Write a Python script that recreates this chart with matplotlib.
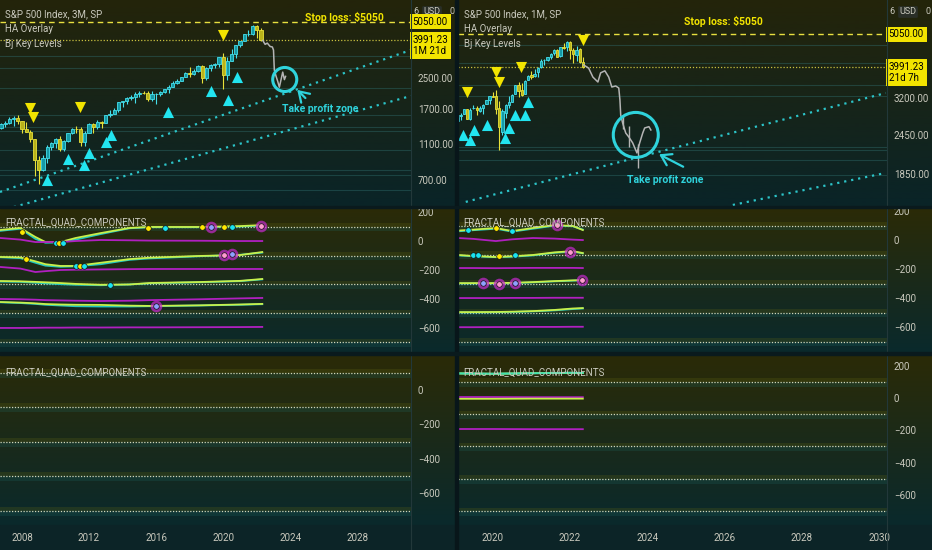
import numpy as np
import pandas as pd
import matplotlib
matplotlib.use("Agg")
import matplotlib.pyplot as plt
from matplotlib import transforms, font_manager
from matplotlib.colors import LinearSegmentedColormap
from matplotlib.ticker import NullLocator

# a narrow face looks closest to the TradingView labels; fall back to Roboto
installed = {f.name for f in font_manager.fontManager.ttflist}
if 'Liberation Sans Narrow' in installed:
    plt.rcParams['font.family'] = ['Liberation Sans Narrow', 'DejaVu Sans']
    FS = 8
else:
    plt.rcParams['font.family'] = ['Roboto', 'DejaVu Sans']
    FS = 7

W, H = 932, 550

# ---------------- S&P 500, quarterly bars (3M), 2006Q3 .. 2022Q2 ----------------
q_first = "2006Q3"
q_open = [1270, 1336, 1418, 1421, 1503, 1527, 1468, 1323, 1280, 1166, 903, 798,
          919, 1057, 1115, 1169, 1031, 1141, 1258, 1326, 1321, 1131, 1258, 1408,
          1362, 1441, 1426, 1569, 1606, 1682, 1848, 1872, 1960, 1972, 2059, 2068,
          2063, 1920, 2044, 2060, 2099, 2168, 2239, 2363, 2423, 2519, 2674, 2641,
          2718, 2914, 2507, 2834, 2942, 2977, 3231, 2585, 3100, 3363, 3756, 3973,
          4298, 4308, 4766, 4530]
q_high = [1340, 1431, 1461, 1540, 1556, 1576, 1471, 1440, 1313, 1167, 944, 957,
          1080, 1130, 1180, 1220, 1157, 1263, 1344, 1370, 1356, 1293, 1420, 1422,
          1475, 1470, 1570, 1687, 1729, 1849, 1884, 1968, 2019, 2093, 2119, 2135,
          2132, 2116, 2082, 2120, 2193, 2278, 2401, 2454, 2519, 2694, 2873, 2791,
          2941, 2940, 2860, 2964, 3028, 3248, 3394, 3233, 3588, 3760, 3984, 4298,
          4546, 4808, 4818, 4637]
q_low = [1224, 1327, 1364, 1416, 1370, 1406, 1257, 1272, 1133, 741, 667, 783,
         869, 1020, 1045, 1011, 1010, 1131, 1250, 1259, 1075, 1075, 1258, 1267,
         1325, 1343, 1426, 1536, 1604, 1647, 1737, 1814, 1904, 1820, 1981, 2048,
         1867, 1872, 1810, 1991, 2074, 2084, 2233, 2322, 2405, 2519, 2533, 2594,
         2691, 2347, 2444, 2729, 2822, 2856, 2192, 2447, 3100, 3209, 3662, 3955,
         4234, 4279, 4115, 3959]
q_close = [1336, 1418, 1421, 1503, 1527, 1468, 1323, 1280, 1166, 903, 798, 919,
           1057, 1115, 1169, 1031, 1141, 1258, 1326, 1321, 1131, 1258, 1408, 1362,
           1441, 1426, 1569, 1606, 1682, 1848, 1872, 1960, 1972, 2059, 2068, 2063,
           1920, 2044, 2060, 2099, 2168, 2239, 2363, 2423, 2519, 2674, 2641, 2718,
           2914, 2507, 2834, 2942, 2977, 3231, 2585, 3100, 3363, 3756, 3973, 4298,
           4308, 4766, 4530, 3991.23]

# ---------------- S&P 500, monthly bars (1M), 2019-01 .. 2022-05 ----------------
m_first = "2019-01"
m_open = [2476, 2703, 2798, 2848, 2952, 2751, 2971, 2980, 2910, 2983, 3050, 3144,
          3245, 3236, 2974, 2499, 2869, 3039, 3106, 3289, 3508, 3386, 3296, 3645,
          3764, 3732, 3842, 3992, 4191, 4207, 4301, 4407, 4528, 4317, 4610, 4602,
          4778, 4519, 4363, 4540, 4130]
m_high = [2708, 2813, 2861, 2949, 2955, 2964, 3028, 3013, 3022, 3050, 3154, 3248,
          3337, 3394, 3137, 2955, 3068, 3233, 3280, 3512, 3588, 3550, 3645, 3760,
          3870, 3950, 3983, 4218, 4238, 4302, 4429, 4537, 4546, 4608, 4744, 4808,
          4818, 4595, 4637, 4593, 4307]
m_low = [2443, 2681, 2722, 2848, 2750, 2729, 2952, 2822, 2892, 2856, 3050, 3070,
         3214, 2855, 2192, 2447, 2767, 2965, 3101, 3284, 3210, 3234, 3279, 3633,
         3662, 3725, 3723, 3955, 4056, 4164, 4233, 4367, 4306, 4279, 4560, 4495,
         4222, 4115, 4157, 4124, 3959]
m_close = [2704, 2784, 2834, 2946, 2752, 2942, 2980, 2926, 2977, 3038, 3141, 3231,
           3226, 2954, 2585, 2912, 3044, 3100, 3271, 3500, 3363, 3270, 3622, 3756,
           3714, 3811, 3973, 4181, 4204, 4298, 4395, 4523, 4308, 4605, 4567, 4766,
           4516, 4374, 4530, 4132, 3991.23]

last_price = 3991.23
stop_loss = 5050

# signal triangles (date, price)
l_up_x = [2009.5, 2010.75, 2011.7, 2012.0, 2013.0, 2013.3, 2016.7, 2019.3, 2020.3, 2020.8]
l_up_y = [703, 912, 847, 984, 1127, 1230, 1637, 2128, 1901, 2531]
l_dn_x = [2008.48, 2008.66, 2011.47, 2020.0]
l_dn_y = [1722, 1538, 1742, 4266]
r_up_x = [2019.22, 2019.40, 2019.51, 2019.84, 2020.31, 2020.41, 2020.57, 2020.83, 2020.91]
r_up_y = [2449, 2362, 2540, 2633, 2399, 2576, 2828, 2828, 3105]
r_dn_x = [2019.33, 2020.08, 2020.16, 2020.72, 2022.33]
r_dn_y = [3337, 3855, 3586, 3996, 4853]

# drawn projection (bars pattern)
l_proj_x = [2022.36, 2022.5, 2022.63, 2022.8, 2022.93, 2023.0, 2023.05, 2023.15, 2023.25,
            2023.35, 2023.45, 2023.55, 2023.65, 2023.72]
l_proj_y = [3991, 3800, 3860, 3700, 3680, 3540, 2760, 2560, 2400, 2230, 2450, 2690, 2450, 2550]
r_proj_x = [2022.35, 2022.48, 2022.59, 2022.72, 2022.79, 2022.90, 2023.00, 2023.08, 2023.18,
            2023.26, 2023.29, 2023.31, 2023.36, 2023.44, 2023.52, 2023.62, 2023.73, 2023.80,
            2023.88, 2023.93, 2024.04, 2024.09]
r_proj_y = [4055, 3963, 3715, 3586, 3830, 3886, 3715, 3459, 3485, 3434, 3148, 2828, 2670,
            2484, 2414, 2313, 2152, 2313, 2484, 2576, 2600, 2539]
r_proj_wick_x = [2023.36, 2023.52, 2023.75]
r_proj_wick_lo = [2560, 2250, 1931]
r_proj_wick_hi = [2830, 2620, 2300]

# dotted trend lines (two points each)
l_trend1 = ([2006.69, 2031.2], [605, 3543])
l_trend2 = ([2006.69, 2031.2], [478, 2000])
r_trend1 = ([2019.30, 2030.17], [1513, 3313])
r_trend2 = ([2026.21, 2030.17], [1480, 1864])

# faint key levels
l_levels = [3289, 2830, 2215, 1585, 1358, 1290, 1020, 800, 750, 620]
r_levels = [4680, 4110, 3520, 3250, 2250, 2200, 2050, 1840]

# take-profit zones (circle centre), arrow tip / tail
l_zone = (2023.67, 2454)
r_zone = (2023.70, 2450)
l_arrow = ((2024.30, 2208), (2025.02, 1901))
r_arrow = ((2024.24, 2151), (2024.99, 1931))
l_tp_text = (2025.79, 1700)
r_tp_text = (2024.45, 1772)

# ---------------- FRACTAL_QUAD_COMPONENTS (left, 3M) ----------------
lo_x = [2006.69, 2007.9, 2008.8, 2009.4, 2010.3, 2011.2, 2012.7, 2014.4, 2015.6, 2018.6, 2021.0, 2022.33]
lo_fast = [[76, 90, 28, -7, -7, 21, 55, 90, 97, 97, 103, 110],
           [-110, -113, -140, -160, -172, -172, -150, -125, -115, -103, -97, -76],
           [-276, -278, -282, -285, -290, -296, -302, -300, -290, -283, -275, -262],
           [-421, -425, -430, -435, -438, -440, -441, -446, -448, -444, -438, -434]]
lo_slow = [[70, 85, 15, -12, -10, 10, 48, 88, 95, 95, 100, 106],
           [-112, -118, -150, -170, -178, -175, -160, -130, -120, -105, -95, -80],
           [-280, -282, -288, -292, -298, -302, -305, -300, -292, -285, -277, -265],
           [-423, -428, -434, -440, -445, -450, -452, -452, -450, -445, -440, -436]]
lo_mag = [[21, 10, -7, -7, -7, 0, 7, 5, 3, 2, 0, 0],
          [-179, -190, -214, -208, -200, -198, -196, -194, -193, -193, -193, -193],
          [-400, -402, -405, -408, -410, -412, -414, -412, -408, -402, -396, -393],
          [-600, -600, -599, -598, -598, -597, -597, -596, -596, -595, -594, -593]]
lo_dot_x = [2007.98, 2010.0, 2010.2, 2010.45, 2015.5, 2016.5, 2018.73, 2019.27, 2020.02, 2020.52, 2022.27,
            2008.22, 2011.23, 2011.47, 2011.72, 2020.02, 2020.52, 2013.26, 2015.98]
lo_dot_y = [64, -12, -12, -12, 88, 88, 94, 94, 94, 94, 101,
            -122, -172, -172, -172, -97, -92, -303, -448]
lo_dot_k = ['y', 'c', 'y', 'c', 'y', 'c', 'y', 'v', 'y', 'c', 'p',
            'y', 'c', 'y', 'c', 'p', 'v', 'c', 'v']

# ---------------- FRACTAL_QUAD_COMPONENTS (right, 1M) ----------------
ro_x = [2019.1, 2019.5, 2020.08, 2020.5, 2021.04, 2021.6, 2022.07, 2022.33]
ro_fast = [[65, 72, 83, 62, 83, 103, 97, 69],
           [-103, -110, -117, -112, -103, -85, -76, -90],
           [-297, -297, -297, -295, -290, -283, -278, -276],
           [-497, -497, -496, -494, -490, -482, -472, -469]]
ro_slow = [[60, 68, 78, 58, 78, 100, 95, 72],
           [-106, -112, -118, -115, -106, -88, -80, -92],
           [-299, -299, -299, -297, -292, -285, -280, -278],
           [-499, -499, -498, -496, -492, -485, -476, -472]]
ro_mag = [[14, 8, -7, 5, 14, 10, 3, 0],
          [-193, -193, -194, -193, -192, -192, -192, -193],
          [-400, -400, -400, -399, -399, -398, -398, -398],
          [-601, -601, -600, -600, -599, -599, -598, -598]]
ro_dot_x = [2019.35, 2020.08, 2020.51, 2021.65, 2019.49, 2019.63, 2020.16, 2020.58, 2022.0,
            2019.75, 2020.16, 2020.58, 2022.32]
ro_dot_y = [69, 85, 64, 103, -103, -103, -110, -103, -81, -299, -303, -299, -276]
ro_dot_k = ['c', 'y', 'c', 'p', 'c', 'c', 'y', 'c', 'p', 'v', 'p', 'v', 'p']

# second FRACTAL pane (right only has data)
rb_x = [2019.1, 2020.0, 2021.0, 2022.0, 2022.33]
rb_green = [[152, 150, 153, 156, 155], [-5, -5, -4, -4, -4]]
rb_mag = [[6, 6, 5, 5, 5], [-192, -192, -193, -193, -193]]

osc_levels = [100, -100, -300, -500, -700]

# ---------------- styling ----------------
TXT = "#c9c9bd"
CYAN = "#2fd3dc"
YEL = "#f2e400"
TEAL_UP = ("#169aa6", "#45e0ec")
YEL_DN = ("#b8b21a", "#e8e23a")
dot_style = {'y': ('#ffe800', None), 'c': ('#19e3f0', None),
             'p': ('#ff9ad0', '#c828d0'), 'v': ('#8fa0ff', '#c828d0')}


def frac(x0, y0, x1, y1):
    return [x0 / W, 1 - y1 / H, (x1 - x0) / W, (y1 - y0) / H]


fig = plt.figure(figsize=(W / 100, H / 100), dpi=100, facecolor="#0c2226")

rows = {'top': (0, 206), 'mid': (208, 352), 'bot': (355, 525)}
row_cols = {'top': ("#24240a", "#0a2428"), 'mid': ("#2b2b07", "#0a292c"), 'bot': ("#2b2b07", "#0a292c")}
for key, (y0, y1) in rows.items():
    bg = fig.add_axes(frac(0, y0, W, y1), zorder=0)
    cmap = LinearSegmentedColormap.from_list(key, row_cols[key])
    bg.imshow(np.linspace(0, 1, 256).reshape(-1, 1), aspect="auto", cmap=cmap,
              extent=[0, 1, 0, 1], transform=bg.transAxes)
    bg.axis("off")

cols = {'L': (0, 411), 'R': (458, 887)}
axes = {}
for c, (x0, x1) in cols.items():
    for r, (y0, y1) in rows.items():
        ax = fig.add_axes(frac(x0, y0, x1, y1), zorder=2)
        ax.set_facecolor("none")
        for s in ax.spines.values():
            s.set_visible(False)
        ax.yaxis.tick_right()
        ax.tick_params(axis='y', length=0, pad=5, labelsize=FS, labelcolor=TXT)
        ax.tick_params(axis='x', length=0, labelbottom=False)
        axes[c + r] = ax

# separators
fig.add_artist(plt.Rectangle((455 / W, 0), 3 / W, 1, transform=fig.transFigure, color="#08161a", zorder=5))
for xp in (411, 887):
    fig.add_artist(plt.Line2D([xp / W, xp / W], [0, 1], transform=fig.transFigure, color="#22383a", lw=0.8, zorder=5))
for y0, y1 in ((206, 208), (352, 355)):
    fig.add_artist(plt.Rectangle((0, 1 - y1 / H), 1, (y1 - y0) / H, transform=fig.transFigure,
                                 color="#0a1a1d", zorder=5))
fig.add_artist(plt.Rectangle((0, 0), 1, 25 / H, transform=fig.transFigure, color="#0c2427", zorder=1))


def candles(ax, x, o, h, l, c, width):
    o, h, l, c = (np.asarray(v, dtype=float) for v in (o, h, l, c))
    up = c >= o
    for mask, (face, edge) in ((up, TEAL_UP), (~up, YEL_DN)):
        ax.vlines(x[mask], l[mask], h[mask], color=edge, lw=0.8, zorder=3)
        ax.bar(x[mask], np.abs(c - o)[mask], width, bottom=np.minimum(o, c)[mask],
               color=face, edgecolor=edge, lw=0.6, zorder=4)


def price_pane(ax, x, o, h, l, c, width, xlim, ylim, ticks, levels, up, dn, proj,
               trends, zone, zone_s, arrow, tp, title, stop_xy, countdown):
    ax.set_yscale('log')
    ax.set_xlim(*xlim)
    ax.set_ylim(*ylim)
    ax.set_yticks(ticks)
    ax.set_yticklabels([f"{t:.2f}" for t in ticks])
    ax.yaxis.set_minor_locator(NullLocator())
    for lv in levels:
        ax.axhline(lv, color="#2e6a6a", lw=0.8, alpha=0.45, zorder=1)
    for tx, ty in trends:
        ax.plot(tx, ty, color="#2cc4c8", lw=1.6, ls=(0, (1, 2.2)), zorder=2)
    ax.axhline(stop_loss, color="#e8e040", lw=1.0, ls=(0, (4, 3)), zorder=2)
    ax.axhline(last_price, color="#c8c040", lw=0.9, ls=(0, (1, 1.5)), zorder=2)
    candles(ax, x, o, h, l, c, width)
    ax.plot(proj[0], proj[1], color="#b4b4b4", lw=1.1, zorder=4)
    ax.scatter(up[0], up[1], marker='^', s=64, color="#22e5f0", zorder=6, lw=0)
    ax.scatter(dn[0], dn[1], marker='v', s=64, color=YEL, zorder=6, lw=0)
    ax.scatter([zone[0]], [zone[1]], s=zone_s, facecolor='none', edgecolor=CYAN, lw=2.2, zorder=7)
    ax.annotate("", xy=arrow[0], xytext=arrow[1],
                arrowprops=dict(arrowstyle="->,head_length=0.7,head_width=0.45", color=CYAN, lw=1.6), zorder=7)
    ax.text(tp[0], tp[1], "Take profit zone", color=CYAN, fontsize=FS + 0.5, fontweight='bold',
            ha='center', va='center', zorder=7)
    ax.text(stop_xy[0], stop_xy[1], "Stop loss: $5050", color=YEL, fontsize=FS + 0.5, fontweight='bold',
            ha='center', va='center', transform=ax.transAxes, zorder=7)
    for i, t in enumerate([title, "HA Overlay", "Bj Key Levels"]):
        ax.text(0.013, 1 - (14 + 15 * i) / 206, t, color=TXT, fontsize=FS,
                va='center', transform=ax.transAxes, zorder=8)
    blend = transforms.blended_transform_factory(ax.transAxes, ax.transData)
    ax.text(1.004, stop_loss, "5050.00", transform=blend, color="black", fontsize=FS, va='center',
            ha='left', bbox=dict(boxstyle='square,pad=0.3', fc=YEL, ec='none'), zorder=9, clip_on=False)
    ax.annotate(f"{last_price:.2f}\n{countdown}", xy=(1.004, last_price), xycoords=blend,
                xytext=(0, 4), textcoords='offset points', color="black", fontsize=FS, va='top',
                ha='left', linespacing=1.15, annotation_clip=False,
                bbox=dict(boxstyle='square,pad=0.3', fc=YEL, ec='none'), zorder=9)
    # currency header above the price scale
    ax.annotate("6", xy=(1, 1 - 12 / 206), xycoords='axes fraction', xytext=(2, 0),
                textcoords='offset points', color=TXT, fontsize=FS - 0.5, va='center', annotation_clip=False)
    ax.annotate("USD", xy=(1, 1 - 12 / 206), xycoords='axes fraction', xytext=(9, 0),
                textcoords='offset points', color=TXT, fontsize=FS - 0.5, va='center', annotation_clip=False,
                bbox=dict(boxstyle='round,pad=0.15', fc="#2a2f28", ec='none'))
    ax.annotate("0", xy=(1, 1 - 12 / 206), xycoords='axes fraction', xytext=(28, 0),
                textcoords='offset points', color=TXT, fontsize=FS - 0.5, va='center', annotation_clip=False)


def osc_pane(ax, xlim, ylim, ticks, x, fast, slow, mag, dx, dy, dk):
    ax.set_xlim(*xlim)
    ax.set_ylim(*ylim)
    ax.set_yticks(ticks)
    ax.set_yticklabels([str(t).replace("-", "\u2212") for t in ticks])
    for lv in osc_levels:
        ax.axhspan(lv - 30, lv, color="#1f6a68", alpha=0.22, lw=0, zorder=0)
        ax.axhspan(lv, lv + 22, color="#6a6a10", alpha=0.22, lw=0, zorder=0)
        ax.axhline(lv, color="#d2d6b8", lw=0.9, ls=(0, (1, 1.3)), zorder=1)
    for f, s in zip(fast, slow):
        ax.plot(x, s, color="#20c8c0", lw=1.3, zorder=3)
        ax.plot(x, f, color="#c8f04a", lw=1.3, zorder=3)
    for m in mag:
        ax.plot(x, m, color="#b020c0", lw=1.3, zorder=3)
    for px, py, k in zip(dx, dy, dk):
        face, halo = dot_style[k]
        if halo:
            ax.scatter([px], [py], s=70, color=halo, alpha=0.7, lw=0, zorder=5)
        ax.scatter([px], [py], s=16, color=face, edgecolor="#101010", lw=0.5, zorder=6)
    ax.text(0.013, 1 - 15 / 144, "FRACTAL_QUAD_COMPONENTS", color=TXT, fontsize=FS,
            va='center', transform=ax.transAxes, zorder=8)


q_x = np.array([p.year + (p.quarter - 1) / 4 for p in pd.period_range(q_first, periods=len(q_close), freq="Q")])
m_x = np.array([p.year + (p.month - 1) / 12 for p in pd.period_range(m_first, periods=len(m_close), freq="M")])

L_XLIM = (2006.69, 2031.2)
R_XLIM = (2019.1, 2030.2)

price_pane(axes['Ltop'], q_x, q_open, q_high, q_low, q_close, 0.19, L_XLIM, (508, 6601),
           [700, 1100, 1700, 2500], l_levels, (l_up_x, l_up_y), (l_dn_x, l_dn_y),
           (l_proj_x, l_proj_y), [l_trend1, l_trend2], l_zone, 300, l_arrow, l_tp_text,
           "S&P 500 Index, 3M, SP", (0.839, 1 - 17 / 206), "1M 21d")
price_pane(axes['Rtop'], m_x, m_open, m_high, m_low, m_close, 0.06, R_XLIM, (1469, 6470),
           [1850, 2450, 3200], r_levels, (r_up_x, r_up_y), (r_dn_x, r_dn_y),
           (r_proj_x, r_proj_y), [r_trend1, r_trend2], r_zone, 1050, r_arrow, r_tp_text,
           "S&P 500 Index, 1M, SP", (0.618, 1 - 21 / 206), "21d 7h")
axes['Rtop'].vlines(r_proj_wick_x, r_proj_wick_lo, r_proj_wick_hi, color="#b4b4b4", lw=1.0, zorder=4)

osc_pane(axes['Lmid'], L_XLIM, (-766, 228), [200, 0, -200, -400, -600],
         lo_x, lo_fast, lo_slow, lo_mag, lo_dot_x, lo_dot_y, lo_dot_k)
osc_pane(axes['Rmid'], R_XLIM, (-772, 221), [200, 0, -200, -400, -600],
         ro_x, ro_fast, ro_slow, ro_mag, ro_dot_x, ro_dot_y, ro_dot_k)
osc_pane(axes['Lbot'], L_XLIM, (-783, 203), [0, -200, -400, -600], [], [], [], [], [], [], [])
osc_pane(axes['Rbot'], R_XLIM, (-786, 266), [200, 0, -200, -400, -600],
         rb_x, [rb_green[0]], [rb_green[0]], rb_mag, [], [], [])
axes['Rbot'].plot(rb_x, rb_green[1], color="#c8f04a", lw=1.3, zorder=4)
axes['Rbot'].plot(rb_x, rb_green[0], color="#40e0b0", lw=1.3, zorder=4)

for key, years in (('Lbot', [2008, 2012, 2016, 2020, 2024, 2028]),
                   ('Rbot', [2020, 2022, 2024, 2026, 2028, 2030])):
    ax = axes[key]
    ax.set_xticks(years)
    ax.set_xticklabels([str(y) for y in years])
    ax.tick_params(axis='x', length=0, pad=6, labelbottom=True, labelsize=FS, labelcolor=TXT)

fig.savefig("out.png", dpi=100, facecolor=fig.get_facecolor())
